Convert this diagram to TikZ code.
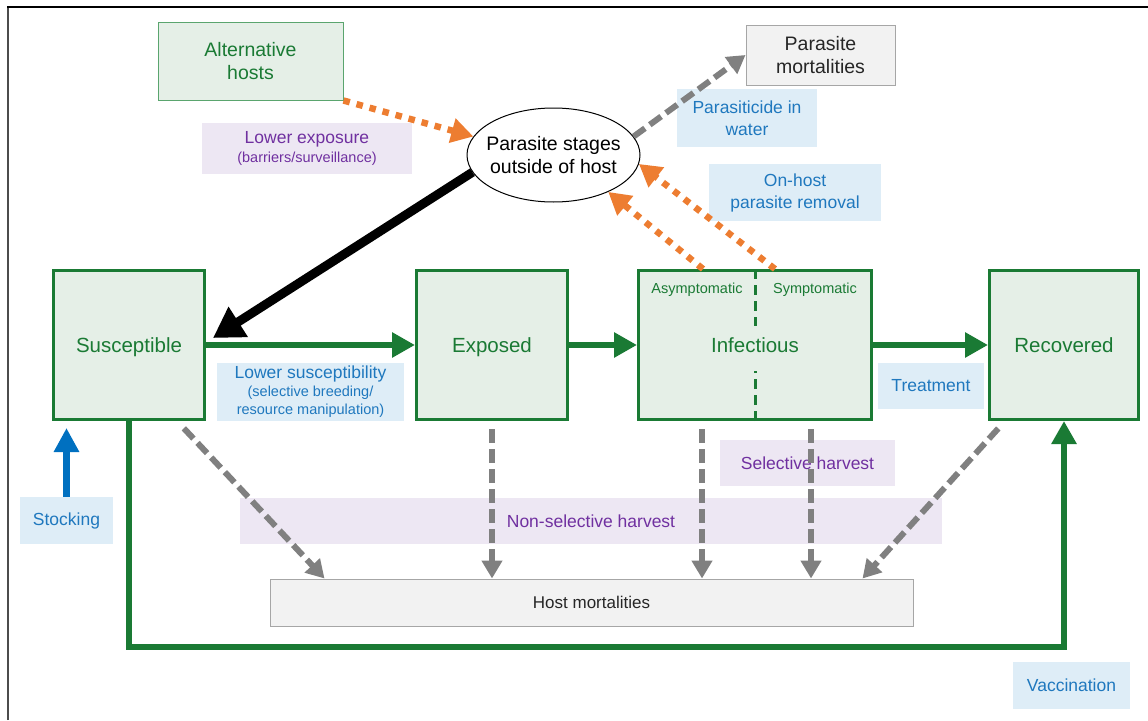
\documentclass[tikz,border=0pt]{standalone}
\usepackage{fontspec}
\setmainfont{Liberation Sans}
\usepackage{tikz}
\usetikzlibrary{arrows.meta,shapes.geometric}

\definecolor{sirgreen}{RGB}{26,122,52}
\definecolor{boxgreen}{RGB}{229,239,231}
\definecolor{altline}{RGB}{90,165,110}
\definecolor{lavender}{RGB}{237,231,243}
\definecolor{purpletext}{RGB}{112,48,160}
\definecolor{paleblue}{RGB}{222,237,247}
\definecolor{bluetext}{RGB}{31,120,190}
\definecolor{spillorange}{RGB}{237,125,49}
\definecolor{lossgray}{RGB}{128,128,128}
\definecolor{mortfill}{RGB}{242,242,242}
\definecolor{mortline}{RGB}{166,166,166}
\definecolor{stockblue}{RGB}{0,112,192}

\begin{document}
\begin{tikzpicture}[x=1pt,y=-1pt,
  comp/.style={draw=sirgreen,line width=3pt,fill=boxgreen,text=sirgreen,text depth=0pt,
    minimum height=149pt,inner sep=0pt,font=\fontsize{20.5}{24}\selectfont},
  action/.style={fill=paleblue,text=bluetext,align=center,inner sep=0pt,
    font=\fontsize{17.5}{22}\selectfont},
  harvest/.style={fill=lavender,text=purpletext,align=center,inner sep=0pt,
    font=\fontsize{17.5}{22}\selectfont},
  mort/.style={draw=mortline,line width=1pt,fill=mortfill,text=black!85,align=center,inner sep=0pt},
  flow/.style={draw=sirgreen,line width=6.5pt,-{Triangle[length=23pt,width=24pt]}},
  spill/.style={draw=spillorange,line width=6.5pt,dash pattern=on 6.5pt off 7pt,
    -{Triangle[length=22pt,width=24pt]}},
  loss/.style={draw=lossgray,line width=6pt,dash pattern=on 14pt off 6pt,
    -{Triangle[length=18pt,width=20pt]}},
  divider/.style={draw=sirgreen,line width=3pt,dash pattern=on 10pt off 6pt}]
\useasboundingbox (0,0) rectangle (1148,720);
\draw[line width=2pt,black!70] (8,720) -- (8,7);
\draw[line width=2pt,black] (7,7) -- (1148,7);

% labels for the interventions
\node[harvest,minimum width=210pt,minimum height=51pt] (lowexp) at (307,148.5)
  {Lower exposure\\[-3pt]{\fontsize{14.5}{17}\selectfont (barriers/surveillance)}};
\node[action,minimum width=140pt,minimum height=58pt] (water) at (747,118) {Parasiticide in\\water};
\node[action,minimum width=172pt,minimum height=57pt] (onhost) at (795,192.5) {On-host\\parasite removal};
\node[action,minimum width=187pt,minimum height=58pt] (lowsus) at (310.5,392)
  {Lower susceptibility\\[-4pt]{\fontsize{14.5}{17}\selectfont (selective breeding/}\\[-4pt]{\fontsize{14.5}{17}\selectfont resource manipulation)}};
\node[action,minimum width=106pt,minimum height=46pt] (treat) at (931,386) {Treatment};
\node[action,minimum width=93pt,minimum height=47pt] (stock) at (66.5,520.5) {Stocking};
\node[action,minimum width=117pt,minimum height=47pt] (vacc) at (1071.5,685.5) {Vaccination};
\node[harvest,minimum width=702pt,minimum height=46pt] (nonsel) at (591,521) {Non-selective harvest};
\node[harvest,minimum width=175pt,minimum height=46pt] (sel) at (807.5,463) {Selective harvest};

% compartments
\node[draw=altline,line width=1pt,fill=boxgreen,text=sirgreen,align=center,
  minimum width=185pt,minimum height=78pt,font=\fontsize{19.5}{23}\selectfont] (alt) at (250.5,61) {Alternative\\hosts};
\node[ellipse,draw,line width=1pt,fill=white,minimum width=173pt,minimum height=94pt,
  inner xsep=-8pt,inner ysep=0pt,
  align=center,font=\fontsize{19.5}{23}\selectfont] (ps) at (553.5,155) {Parasite stages\\outside of host};
\node[mort,minimum width=149pt,minimum height=60pt,font=\fontsize{19.5}{23}\selectfont] (pmort) at (820.5,55) {Parasite\\mortalities};
\node[comp,minimum width=151pt] (sus) at (129,345) {Susceptible};
\node[comp,minimum width=151pt] (ex) at (492,345) {Exposed};
\node[comp,minimum width=233pt] (inf) at (755,345) {Infectious};
\node[comp,minimum width=149pt] (rec) at (1064,345) {Recovered};
\node[text=sirgreen,font=\fontsize{14.5}{17}\selectfont] (asy) at (697,290) {Asymptomatic};
\node[text=sirgreen,font=\fontsize{14.5}{17}\selectfont] (sym) at (815,290) {Symptomatic};
\node[mort,minimum width=643pt,minimum height=47pt,font=\fontsize{17}{20}\selectfont] (hm) at (591.5,602.5) {Host mortalities};

\draw[divider] (inf.north) -- ++(0,57);
\draw[divider] (inf.south) -- ++(0,-50);

% transmission
\draw[line width=9pt,-{Triangle[length=30pt,width=34pt]}] (ps.192) -- ([shift={(7pt,7pt)}]sus.east);
\foreach \from/\to in {sus/ex,ex/inf,inf/rec}
  \draw[flow] (\from) -- (\to);
\draw[flow] (sus.south) -- ++(0,226) -| (rec.south);
\draw[draw=stockblue,line width=7pt,-{Triangle[length=24pt,width=24pt]},shorten >=7pt]
  (stock.north) -- (stock.north |- sus.south);

% parasites shed and lost
\draw[spill] (alt.south east) -- (ps.167);
\draw[spill] ([xshift=-52pt]inf.north) -- (ps.326);
\draw[spill] ([xshift=20pt]inf.north) -- (ps.354);
\draw[loss] (ps.13) -- (pmort.west);

% host deaths
\coordinate (exb) at (ex.south);
\coordinate (asyb) at ([xshift=-53pt]inf.south);
\coordinate (symb) at ([xshift=56pt]inf.south);
\foreach \src in {exb,asyb,symb}
  \draw[loss,shorten <=8pt] (\src) -- (\src |- hm.north);
\draw[loss,shorten <=10pt] ([xshift=48pt]sus.south) -- ([xshift=55pt]hm.north west);
\draw[loss,shorten <=10pt] ([xshift=-59pt]rec.south) -- ([xshift=-51pt]hm.north east);
\end{tikzpicture}
\end{document}
